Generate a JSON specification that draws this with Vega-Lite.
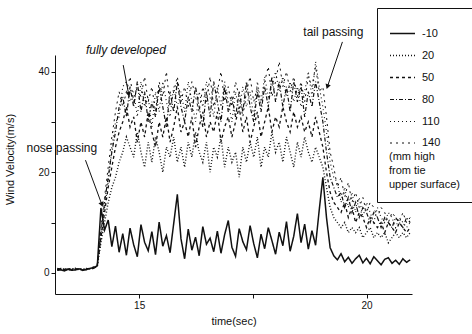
{
  "$schema": "https://vega.github.io/schema/vega-lite/v6.json",
  "width": 357,
  "height": 239,
  "autosize": {"type": "none"},
  "padding": {"left": 55, "top": 55, "right": 60, "bottom": 40},
  "background": "white",
  "config": {
    "view": {"stroke": null},
    "font": "Liberation Sans",
    "axis": {"grid": false, "domainColor": "#111", "tickColor": "#111", "labelColor": "#111", "titleColor": "#111", "labelFont": "Liberation Sans", "titleFont": "Liberation Sans", "labelFontSize": 10, "titleFontSize": 11, "titleFontWeight": "normal", "tickSize": 4, "labelPadding": 2}
  },
  "datasets": {
    "wind": [
      {"t":13.2,"-10":0.5,"20":0.6,"50":0.8,"80":0.7,"110":0.6,"140":0.9},
      {"t":13.28,"-10":0.6,"20":0.7,"50":0.6,"80":0.9,"110":0.7,"140":0.8},
      {"t":13.36,"-10":0.4,"20":0.8,"50":0.7,"80":0.6,"110":0.8,"140":0.7},
      {"t":13.44,"-10":0.7,"20":0.6,"50":0.9,"80":0.8,"110":0.6,"140":0.6},
      {"t":13.52,"-10":0.5,"20":0.7,"50":0.6,"80":0.7,"110":0.9,"140":0.8},
      {"t":13.6,"-10":0.6,"20":0.9,"50":0.8,"80":0.6,"110":0.7,"140":0.7},
      {"t":13.68,"-10":0.8,"20":0.6,"50":0.7,"80":0.9,"110":0.6,"140":0.9},
      {"t":13.76,"-10":0.5,"20":0.8,"50":0.6,"80":0.7,"110":0.8,"140":0.6},
      {"t":13.84,"-10":0.7,"20":0.7,"50":0.9,"80":0.6,"110":0.7,"140":0.8},
      {"t":13.92,"-10":0.9,"20":0.8,"50":0.7,"80":0.8,"110":0.9,"140":1.0},
      {"t":14.0,"-10":1.0,"20":0.9,"50":1.1,"80":0.9,"110":1.0,"140":1.2},
      {"t":14.08,"-10":1.4,"20":1.3,"50":1.5,"80":1.6,"110":1.4,"140":1.7},
      {"t":14.16,"-10":12.9,"20":6,"50":7,"80":8,"110":7,"140":9},
      {"t":14.24,"-10":8.5,"20":10,"50":12,"80":14,"110":13,"140":15},
      {"t":14.32,"-10":10.5,"20":14,"50":17,"80":19,"110":18,"140":21},
      {"t":14.4,"-10":5.2,"20":17,"50":21,"80":24,"110":25,"140":27},
      {"t":14.48,"-10":9.3,"20":19,"50":25,"80":28,"110":30,"140":32},
      {"t":14.56,"-10":4.1,"20":22,"50":28,"80":33,"110":31,"140":36},
      {"t":14.64,"-10":7.8,"20":24,"50":30,"80":35,"110":37,"140":33},
      {"t":14.72,"-10":3.5,"20":27,"50":33,"80":31,"110":38,"140":36},
      {"t":14.8,"-10":8.9,"20":25,"50":29,"80":37,"110":34,"140":39},
      {"t":14.88,"-10":5.6,"20":23,"50":31,"80":33,"110":36,"140":34},
      {"t":14.96,"-10":3.2,"20":28,"50":26,"80":38,"110":31,"140":37},
      {"t":15.04,"-10":9.6,"20":24,"50":30,"80":32,"110":38,"140":35},
      {"t":15.12,"-10":6.1,"20":21,"50":27,"80":36,"110":33,"140":39},
      {"t":15.2,"-10":4.4,"20":26,"50":32,"80":30,"110":35,"140":34},
      {"t":15.28,"-10":8.2,"20":22,"50":28,"80":34,"110":29,"140":37},
      {"t":15.36,"-10":3.6,"20":27,"50":25,"80":31,"110":36,"140":32},
      {"t":15.44,"-10":10.1,"20":24,"50":30,"80":37,"110":32,"140":38},
      {"t":15.52,"-10":5.3,"20":20,"50":27,"80":33,"110":38,"140":35},
      {"t":15.6,"-10":7.4,"20":25,"50":31,"80":29,"110":34,"140":40},
      {"t":15.68,"-10":4.0,"20":23,"50":26,"80":36,"110":31,"140":33},
      {"t":15.76,"-10":9.8,"20":27,"50":29,"80":32,"110":37,"140":36},
      {"t":15.84,"-10":15.6,"20":22,"50":33,"80":38,"110":33,"140":39},
      {"t":15.92,"-10":6.8,"20":25,"50":28,"80":33,"110":36,"140":34},
      {"t":16.0,"-10":2.8,"20":21,"50":30,"80":30,"110":32,"140":37},
      {"t":16.08,"-10":8.7,"20":26,"50":27,"80":35,"110":38,"140":33},
      {"t":16.16,"-10":4.5,"20":23,"50":31,"80":32,"110":34,"140":38},
      {"t":16.24,"-10":7.1,"20":28,"50":25,"80":37,"110":30,"140":35},
      {"t":16.32,"-10":3.4,"20":24,"50":29,"80":33,"110":36,"140":32},
      {"t":16.4,"-10":9.2,"20":22,"50":32,"80":29,"110":33,"140":37},
      {"t":16.48,"-10":5.7,"20":26,"50":27,"80":36,"110":38,"140":34},
      {"t":16.56,"-10":6.9,"20":20,"50":30,"80":31,"110":35,"140":39},
      {"t":16.64,"-10":4.2,"20":25,"50":28,"80":38,"110":31,"140":33},
      {"t":16.72,"-10":8.3,"20":23,"50":32,"80":34,"110":37,"140":36},
      {"t":16.8,"-10":3.9,"20":27,"50":26,"80":30,"110":33,"140":40},
      {"t":16.88,"-10":7.6,"20":21,"50":29,"80":37,"110":38,"140":34},
      {"t":16.96,"-10":10.4,"20":25,"50":31,"80":32,"110":34,"140":37},
      {"t":17.04,"-10":5.1,"20":22,"50":27,"80":35,"110":30,"140":33},
      {"t":17.12,"-10":3.3,"20":24,"50":30,"80":31,"110":36,"140":38},
      {"t":17.2,"-10":8.8,"20":19,"50":33,"80":36,"110":32,"140":35},
      {"t":17.28,"-10":6.2,"20":25,"50":28,"80":32,"110":37,"140":31},
      {"t":17.36,"-10":4.6,"20":22,"50":31,"80":38,"110":33,"140":36},
      {"t":17.44,"-10":9.4,"20":26,"50":26,"80":33,"110":36,"140":39},
      {"t":17.52,"-10":5.8,"20":23,"50":29,"80":30,"110":31,"140":34},
      {"t":17.6,"-10":3.0,"20":27,"50":32,"80":36,"110":38,"140":37},
      {"t":17.68,"-10":7.7,"20":21,"50":27,"80":32,"110":34,"140":33},
      {"t":17.76,"-10":4.8,"20":25,"50":30,"80":37,"110":39,"140":38},
      {"t":17.84,"-10":9.0,"20":23,"50":33,"80":33,"110":35,"140":41},
      {"t":17.92,"-10":6.4,"20":28,"50":28,"80":39,"110":37,"140":35},
      {"t":18.0,"-10":3.7,"20":24,"50":31,"80":34,"110":40,"140":38},
      {"t":18.08,"-10":8.1,"20":26,"50":29,"80":38,"110":36,"140":42},
      {"t":18.16,"-10":5.4,"20":22,"50":33,"80":33,"110":39,"140":37},
      {"t":18.24,"-10":10.2,"20":27,"50":30,"80":37,"110":35,"140":40},
      {"t":18.32,"-10":4.3,"20":24,"50":28,"80":32,"110":38,"140":36},
      {"t":18.4,"-10":7.3,"20":21,"50":32,"80":38,"110":34,"140":39},
      {"t":18.48,"-10":11.8,"20":26,"50":29,"80":34,"110":37,"140":35},
      {"t":18.56,"-10":6.0,"20":23,"50":31,"80":37,"110":33,"140":38},
      {"t":18.64,"-10":9.7,"20":27,"50":28,"80":31,"110":36,"140":34},
      {"t":18.72,"-10":4.7,"20":24,"50":30,"80":36,"110":40,"140":39},
      {"t":18.8,"-10":8.4,"20":22,"50":27,"80":33,"110":35,"140":37},
      {"t":18.88,"-10":5.5,"20":25,"50":31,"80":38,"110":42,"140":41},
      {"t":18.96,"-10":12.5,"20":23,"50":28,"80":34,"110":37,"140":36},
      {"t":19.04,"-10":19.0,"20":21,"50":25,"80":30,"110":33,"140":37},
      {"t":19.12,"-10":11.0,"20":17,"50":20,"80":24,"110":28,"140":31},
      {"t":19.2,"-10":5.0,"20":13,"50":16,"80":19,"110":22,"140":24},
      {"t":19.28,"-10":3.4,"20":11,"50":14,"80":17,"110":19,"140":21},
      {"t":19.36,"-10":2.6,"20":10,"50":13,"80":15,"110":18,"140":17},
      {"t":19.44,"-10":3.8,"20":9,"50":12,"80":16,"110":14,"140":19},
      {"t":19.52,"-10":2.2,"20":10,"50":14,"80":13,"110":17,"140":15},
      {"t":19.6,"-10":3.1,"20":8,"50":11,"80":15,"110":13,"140":18},
      {"t":19.68,"-10":1.9,"20":9,"50":13,"80":12,"110":16,"140":14},
      {"t":19.76,"-10":2.8,"20":8,"50":10,"80":14,"110":12,"140":16},
      {"t":19.84,"-10":3.5,"20":9,"50":12,"80":11,"110":15,"140":13},
      {"t":19.92,"-10":2.0,"20":7,"50":11,"80":13,"110":11,"140":15},
      {"t":20.0,"-10":2.9,"20":8,"50":9,"80":12,"110":14,"140":12},
      {"t":20.08,"-10":1.8,"20":9,"50":11,"80":10,"110":12,"140":14},
      {"t":20.16,"-10":3.2,"20":7,"50":10,"80":12,"110":10,"140":13},
      {"t":20.24,"-10":2.4,"20":8,"50":9,"80":11,"110":13,"140":11},
      {"t":20.32,"-10":1.6,"20":7,"50":10,"80":9,"110":11,"140":13},
      {"t":20.4,"-10":2.7,"20":8,"50":8,"80":11,"110":10,"140":12},
      {"t":20.48,"-10":3.0,"20":6,"50":10,"80":10,"110":12,"140":10},
      {"t":20.56,"-10":1.9,"20":7,"50":9,"80":9,"110":11,"140":12},
      {"t":20.64,"-10":2.5,"20":8,"50":8,"80":11,"110":9,"140":11},
      {"t":20.72,"-10":1.7,"20":7,"50":10,"80":10,"110":11,"140":10},
      {"t":20.8,"-10":2.8,"20":8,"50":9,"80":9,"110":10,"140":12},
      {"t":20.88,"-10":2.1,"20":7,"50":8,"80":11,"110":9,"140":10},
      {"t":20.96,"-10":2.6,"20":8,"50":9,"80":10,"110":10,"140":11}
    ],
    "notes": [
      {"label":"nose passing","tx":13.3,"ty":24.9,"x1":13.82,"y1":22.4,"x2":14.18,"y2":13.6},
      {"label":"fully developed","tx":14.71,"ty":44.3,"x1":14.65,"y1":41.3,"x2":14.77,"y2":35.5},
      {"label":"tail passing","tx":19.27,"ty":47.9,"x1":19.47,"y1":45.9,"x2":19.14,"y2":37.0}
    ]
  },
  "layer": [
    {
      "data": {"name": "wind"},
      "transform": [{"fold": ["-10","20","50","80","110","140"], "as": ["h","v"]}],
      "mark": {"type": "line", "color": "#111", "clip": true},
      "encoding": {
        "x": {"field": "t", "type": "quantitative", "scale": {"domain": [13.15, 21.0], "nice": false, "zero": false},
              "axis": {"title": "time(sec)", "values": [15, 17.5, 20], "labelExpr": "datum.value == 17.5 ? '' : datum.label", "titlePadding": 5}},
        "y": {"field": "v", "type": "quantitative", "scale": {"domain": [-4.2, 43.3], "nice": false, "zero": false},
              "axis": {"title": "Wind Velocity(m/s)", "values": [0, 10, 20, 30, 40], "labelExpr": "datum.value % 20 == 0 ? datum.label : ''", "titleX": -40, "titleY": 104}},
        "detail": {"field": "h"},
        "strokeWidth": {"field": "h", "type": "nominal", "scale": {"domain": ["-10","20","50","80","110","140"], "range": [1.5,1,1,1,1,1]}, "legend": null},
        "strokeDash": {"field": "h", "type": "nominal",
          "scale": {"domain": ["-10","20","50","80","110","140"], "range": [[1,0],[1,2],[3,3],[4,2,1,2],[1,3],[2,4]]},
          "legend": {"orient": "none", "legendX": 322, "legendY": -47, "strokeColor": "#111", "padding": 12,
            "title": ["(mm high", "from tie", "upper surface)"], "titleOrient": "bottom", "titleAnchor": "start",
            "titleFontWeight": "normal", "titleFontSize": 11, "titleLineHeight": 14, "titlePadding": 3, "titleColor": "#111",
            "labelFontSize": 11, "labelColor": "#111", "labelOffset": 6, "symbolType": "stroke", "symbolSize": 625,
            "symbolStrokeWidth": 1, "symbolStrokeColor": "#111", "rowPadding": 3}}
      }
    },
    {
      "data": {"name": "notes"},
      "transform": [{"filter": "datum.label != 'fully developed'"}],
      "mark": {"type": "text", "fontSize": 12, "color": "#111", "align": "center", "baseline": "middle"},
      "encoding": {
        "x": {"field": "tx", "type": "quantitative"},
        "y": {"field": "ty", "type": "quantitative"},
        "text": {"field": "label"}
      }
    },
    {
      "data": {"name": "notes"},
      "transform": [{"filter": "datum.label == 'fully developed'"}],
      "mark": {"type": "text", "fontSize": 12, "fontStyle": "italic", "color": "#111", "align": "center", "baseline": "middle"},
      "encoding": {
        "x": {"field": "tx", "type": "quantitative"},
        "y": {"field": "ty", "type": "quantitative"},
        "text": {"field": "label"}
      }
    },
    {
      "data": {"name": "notes"},
      "mark": {"type": "rule", "color": "#111", "strokeWidth": 1},
      "encoding": {
        "x": {"field": "x1", "type": "quantitative"},
        "y": {"field": "y1", "type": "quantitative"},
        "x2": {"field": "x2"},
        "y2": {"field": "y2"}
      }
    },
    {
      "data": {"name": "notes"},
      "transform": [{"calculate": "atan2((datum.x2 - datum.x1) * 45.48, (datum.y2 - datum.y1) * 5.03) * 180 / PI", "as": "ang"}],
      "mark": {"type": "point", "shape": "triangle-up", "filled": true, "color": "#111", "size": 30, "opacity": 1},
      "encoding": {
        "x": {"field": "x2", "type": "quantitative"},
        "y": {"field": "y2", "type": "quantitative"},
        "angle": {"field": "ang", "type": "quantitative", "scale": null}
      }
    }
  ]
}
